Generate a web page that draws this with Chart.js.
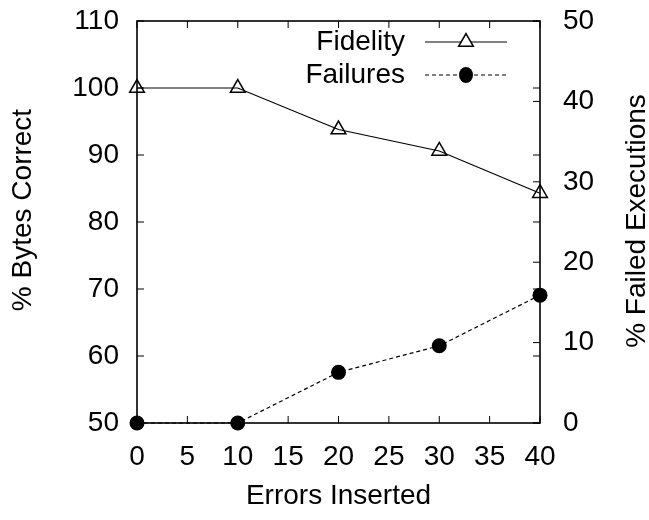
<!DOCTYPE html>
<html>
<head>
<meta charset="utf-8">
<script src="https://cdn.jsdelivr.net/npm/chart.js@4/dist/chart.umd.min.js"></script>
<style>
  html, body { margin: 0; padding: 0; background: #fff; }
  #wrap { width: 649px; height: 520px; }
</style>
</head>
<body>
<div id="wrap"><canvas id="fidelityChart" width="649" height="520"></canvas></div>
<script>
const errorsInserted = [0, 10, 20, 30, 40];
const fidelity = [100, 100, 93.8, 90.6, 84.3];
const failures = [0, 0, 6.3, 9.6, 15.9];
const seriesNames = ["Fidelity", "Failures"];
const axisTitles = { x: "Errors Inserted", y: "% Bytes Correct", y2: "% Failed Executions" };

const FONT = "'Liberation Sans', Arial, sans-serif";
const TICK_SIZE = 28;

function verticalText(ctx, text, x, y) {
  ctx.save();
  ctx.translate(x, y);
  ctx.rotate(-Math.PI / 2);
  ctx.textAlign = "center";
  ctx.textBaseline = "middle";
  ctx.fillText(text, 0, 0);
  ctx.restore();
}

// frame, inward ticks, y titles and the gnuplot-style key
const gnuplotFrame = {
  id: "gnuplotFrame",
  beforeDatasetsDraw(chart) {
    const { ctx, chartArea: a, scales } = chart;
    const tl = 7;
    ctx.save();
    ctx.strokeStyle = "#000";
    ctx.lineWidth = 1;
    ctx.beginPath();
    scales.x.ticks.forEach(t => {
      const px = scales.x.getPixelForValue(t.value);
      ctx.moveTo(px, a.bottom); ctx.lineTo(px, a.bottom - tl);
      ctx.moveTo(px, a.top); ctx.lineTo(px, a.top + tl);
    });
    scales.y.ticks.forEach(t => {
      const py = scales.y.getPixelForValue(t.value);
      ctx.moveTo(a.left, py); ctx.lineTo(a.left + tl, py);
      ctx.moveTo(a.right, py); ctx.lineTo(a.right - tl, py);
    });
    scales.y2.ticks.forEach(t => {
      const py = scales.y2.getPixelForValue(t.value);
      ctx.moveTo(a.right, py); ctx.lineTo(a.right - tl, py);
    });
    ctx.stroke();
    ctx.lineWidth = 1.6;
    ctx.strokeRect(a.left, a.top, a.right - a.left, a.bottom - a.top);
    ctx.restore();
  },
  afterDraw(chart) {
    const { ctx } = chart;
    ctx.save();
    ctx.fillStyle = "#000";
    ctx.font = TICK_SIZE + "px " + FONT;
    verticalText(ctx, axisTitles.y, 23, 210);
    verticalText(ctx, axisTitles.y2, 637, 221);
    ctx.restore();

    // key
    ctx.save();
    ctx.font = TICK_SIZE + "px " + FONT;
    ctx.strokeStyle = "#000";
    const rows = [42, 75];
    chart.data.datasets.forEach((ds, i) => {
      const yy = rows[i];
      ctx.fillStyle = "#000";
      ctx.textAlign = "right";
      ctx.textBaseline = "middle";
      ctx.fillText(ds.label, 405, yy);
      ctx.lineWidth = 1;
      ctx.setLineDash(ds.borderDash || []);
      ctx.beginPath();
      ctx.moveTo(425, yy); ctx.lineTo(507, yy);
      ctx.stroke();
      ctx.setLineDash([]);
      const cx = 466, r = ds.pointRadius;
      ctx.beginPath();
      if (ds.pointStyle === "triangle") {
        ctx.lineWidth = 1.5;
        for (let k = 0; k < 3; k++) {
          const ang = k * 2 * Math.PI / 3;
          const px = cx + Math.sin(ang) * r, py = yy - Math.cos(ang) * r;
          k ? ctx.lineTo(px, py) : ctx.moveTo(px, py);
        }
        ctx.closePath();
        ctx.fillStyle = "#fff";
        ctx.fill();
        ctx.stroke();
      } else {
        ctx.ellipse(cx, yy, r - 0.5, r + 0.5, 0, 0, 2 * Math.PI);
        ctx.fillStyle = "#000";
        ctx.fill();
      }
    });
    ctx.restore();
  }
};

function noEdgePadding(scale) {
  scale.paddingTop = 0;
  scale.paddingBottom = 0;
  scale.paddingLeft = 0;
  scale.paddingRight = 0;
}

const ctx = document.getElementById("fidelityChart").getContext("2d");
new Chart(ctx, {
  type: "line",
  data: {
    datasets: [
      {
        label: seriesNames[0],
        data: errorsInserted.map((e, i) => ({ x: e, y: fidelity[i] })),
        yAxisID: "y",
        borderColor: "#000",
        borderWidth: 1.2,
        pointStyle: "triangle",
        pointRadius: 8.5,
        pointBorderWidth: 1.5,
        pointBorderColor: "#000",
        pointBackgroundColor: "rgba(0,0,0,0)",
        fill: false,
        tension: 0,
        clip: false
      },
      {
        label: seriesNames[1],
        data: errorsInserted.map((e, i) => ({ x: e, y: failures[i] })),
        yAxisID: "y2",
        borderColor: "#000",
        borderWidth: 1.2,
        borderDash: [4, 3],
        pointStyle: "circle",
        pointRadius: 7.5,
        pointBorderWidth: 0,
        pointBackgroundColor: "#000",
        fill: false,
        tension: 0,
        clip: false
      }
    ]
  },
  options: {
    responsive: false,
    animation: false,
    devicePixelRatio: 1,
    layout: { padding: { top: 21, left: 0, right: 0, bottom: 0 } },
    plugins: { legend: { display: false }, tooltip: { enabled: false } },
    scales: {
      x: {
        type: "linear",
        min: 0, max: 40,
        grid: { display: false, drawTicks: false },
        border: { display: false },
        ticks: { stepSize: 5, padding: 17, color: "#000", font: { family: FONT, size: TICK_SIZE } },
        title: { display: true, text: axisTitles.x, color: "#000", padding: { top: 0, bottom: 7 }, font: { family: FONT, size: TICK_SIZE } },
        afterFit(scale) { scale.height = 97; noEdgePadding(scale); }
      },
      y: {
        position: "left",
        min: 50, max: 110,
        grid: { display: false, drawTicks: false },
        border: { display: false },
        ticks: { stepSize: 10, padding: 18, color: "#000", font: { family: FONT, size: TICK_SIZE } },
        afterFit(scale) { scale.width = 137; noEdgePadding(scale); }
      },
      y2: {
        position: "right",
        min: 0, max: 50,
        grid: { display: false, drawTicks: false },
        border: { display: false },
        ticks: { stepSize: 10, padding: 23, color: "#000", font: { family: FONT, size: TICK_SIZE } },
        afterFit(scale) { scale.width = 109; noEdgePadding(scale); }
      }
    }
  },
  plugins: [gnuplotFrame]
});
</script>
</body>
</html>
